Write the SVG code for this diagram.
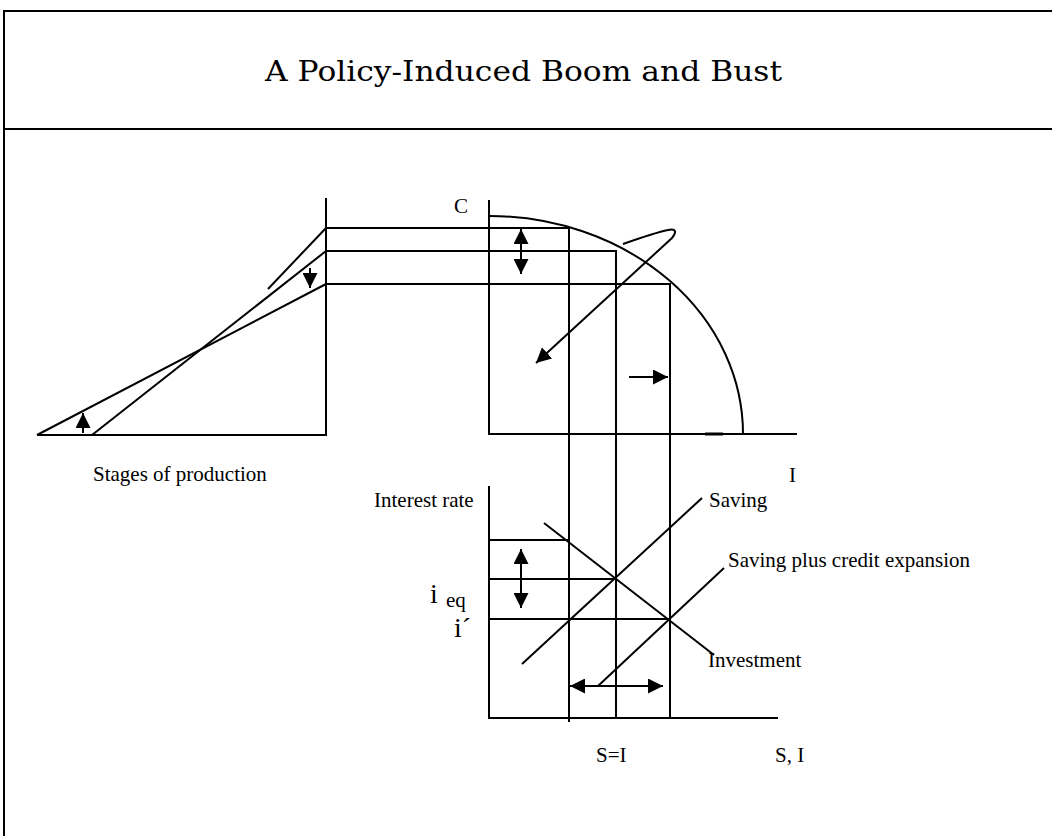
<svg xmlns="http://www.w3.org/2000/svg" width="1052" height="836" viewBox="0 0 1052 836">
<style>
.ln{stroke:#000;stroke-width:2;fill:none;stroke-linecap:butt}
.lbl{font-family:"Liberation Serif","Times New Roman",serif;font-size:21px;fill:#000}
.big{font-family:"Liberation Serif","Times New Roman",serif;font-size:28px;fill:#000}
.title{font-family:"DejaVu Serif","Liberation Serif",serif;font-size:27px;fill:#000}
</style>
<defs>
<marker id="ah" viewBox="0 0 10 10" refX="10" refY="5" markerUnits="userSpaceOnUse" markerWidth="15" markerHeight="15" orient="auto-start-reverse">
<path d="M0,0 L10,5 L0,10 z" fill="#000"/>
</marker>
</defs>
<rect width="1052" height="836" fill="#fff"/>
<g id="frame">
<rect x="4" y="11" width="1100" height="900" fill="none" stroke="#000" stroke-width="2"/>
<line x1="4" y1="129" x2="1052" y2="129" stroke="#000" stroke-width="2"/>
</g>
<g id="title">
<text class="title" x="265" y="81" textLength="517" lengthAdjust="spacingAndGlyphs">A Policy-Induced Boom and Bust</text>
</g>
<g id="stages-chart">
<line class="ln" x1="326" y1="198" x2="326" y2="435"/>
<line class="ln" x1="37" y1="435" x2="327" y2="435"/>
<line class="ln" x1="326" y1="228" x2="268" y2="289"/>
<line class="ln" x1="326" y1="251" x2="92" y2="435"/>
<line class="ln" x1="326" y1="284" x2="37" y2="435"/>
<text class="lbl" x="93" y="481">Stages of production</text>
</g>
<g id="ppf-chart">
<line class="ln" x1="489" y1="200" x2="489" y2="434"/>
<line class="ln" x1="488" y1="434" x2="797" y2="434"/>
<line x1="705" y1="434" x2="723" y2="434" stroke="#000" stroke-width="3"/>
<path class="ln" d="M489,216 A254,218 0 0 1 743,434"/>
<text class="lbl" x="454" y="213">C</text>
<text class="lbl" x="789" y="482">I</text>
</g>
<g id="loanable-funds-chart">
<line class="ln" x1="489" y1="486" x2="489" y2="718"/>
<line class="ln" x1="488" y1="718" x2="778" y2="718"/>
<line class="ln" x1="489" y1="540" x2="570" y2="540"/>
<line class="ln" x1="489" y1="579" x2="616" y2="579"/>
<line class="ln" x1="489" y1="619" x2="670" y2="619"/>
<line class="ln" x1="522" y1="664" x2="702" y2="498"/>
<line class="ln" x1="544" y1="523" x2="714" y2="655"/>
<line class="ln" x1="598" y1="686" x2="724" y2="568"/>
<text class="lbl" x="374" y="507">Interest rate</text>
<text class="lbl" x="709" y="507">Saving</text>
<text class="lbl" x="728" y="567">Saving plus credit expansion</text>
<text class="lbl" x="708" y="667">Investment</text>
<text class="big" x="430" y="603">i</text>
<text class="lbl" x="446" y="607">eq</text>
<text class="big" x="454" y="637">i´</text>
<text class="lbl" x="596" y="762">S=I</text>
<text class="lbl" x="775" y="762">S, I</text>
</g>
<g id="connectors">
<line class="ln" x1="326" y1="228" x2="569" y2="228"/>
<line class="ln" x1="326" y1="251" x2="616" y2="251"/>
<line class="ln" x1="326" y1="284" x2="670" y2="284"/>
<line class="ln" x1="569" y1="227" x2="569" y2="722"/>
<line class="ln" x1="616" y1="250" x2="616" y2="718"/>
<line class="ln" x1="670" y1="283" x2="670" y2="718"/>
<line class="ln" x1="310" y1="268" x2="310" y2="288" marker-end="url(#ah)"/>
<line class="ln" x1="83" y1="433" x2="83" y2="413" marker-end="url(#ah)"/>
<line class="ln" x1="521" y1="229" x2="521" y2="274" marker-start="url(#ah)" marker-end="url(#ah)"/>
<line class="ln" x1="629" y1="377" x2="668" y2="377" marker-end="url(#ah)"/>
<path class="ln" d="M623,244 C640,238 658,232 668,230 C676,228 677,232 672,238 L536,363" marker-end="url(#ah)"/>
<line class="ln" x1="521" y1="549" x2="521" y2="608" marker-start="url(#ah)" marker-end="url(#ah)"/>
<line class="ln" x1="570" y1="686" x2="663" y2="686" marker-start="url(#ah)" marker-end="url(#ah)"/>
</g>
</svg>
